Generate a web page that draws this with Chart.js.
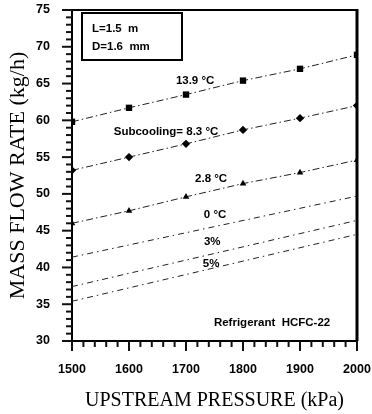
<!DOCTYPE html>
<html>
<head>
<meta charset="utf-8">
<script src="https://cdn.jsdelivr.net/npm/chart.js@4/dist/chart.umd.min.js"></script>
<style>
html,body{margin:0;padding:0;background:#fff;}
#wrap{width:372px;height:414px;}
</style>
</head>
<body>
<div id="wrap"><canvas id="c" width="372" height="414"></canvas></div>
<script>
// ---- data ----
const pressures = [1500, 1600, 1700, 1800, 1900, 2000];
const sub139 = [59.8, 61.7, 63.5, 65.4, 67.0, 68.9];
const sub83  = [53.2, 55.0, 56.8, 58.7, 60.3, 62.0];
const sub28  = [46.0, 47.7, 49.6, 51.4, 52.9, 54.6];
const linePressures = [1500, 2000];
const sub0   = [41.4, 49.7];
const q3     = [37.4, 46.4];
const q5     = [35.4, 44.5];
const xTicks = [1500, 1600, 1700, 1800, 1900, 2000];
const yTicks = [30, 35, 40, 45, 50, 55, 60, 65, 70, 75];
const xMinorStep = 20;
const yMinorStep = 1;
const annotations = [
  {text: '13.9 °C', x: 1716, y: 65.35},
  {text: 'Subcooling= 8.3 °C', x: 1665, y: 58.4},
  {text: '2.8 °C', x: 1744, y: 52.0},
  {text: '0 °C', x: 1751, y: 47.1},
  {text: '3%', x: 1746, y: 43.5},
  {text: '5%', x: 1744, y: 40.5},
  {text: 'Refrigerant  HCFC-22', x: 1851, y: 32.45}
];
const boxLines = ['L=1.5  m', 'D=1.6  mm'];

const toXY = (xs, ys) => xs.map((x, i) => ({x: x, y: ys[i]}));

const markerDash = [7, 3, 1.5, 3];
const plainDash = [6, 4, 1.5, 4];

const datasets = [
  {data: toXY(pressures, sub139), pointStyle: 'rect', pointRadius: 4.5, borderDash: markerDash},
  {data: toXY(pressures, sub83), pointStyle: 'rectRot', pointRadius: 4.2, borderDash: markerDash},
  {data: toXY(pressures, sub28), pointStyle: 'triangle', pointRadius: 3.8, borderDash: markerDash},
  {data: toXY(linePressures, sub0), pointRadius: 0, borderDash: plainDash},
  {data: toXY(linePressures, q3), pointRadius: 0, borderDash: plainDash},
  {data: toXY(linePressures, q5), pointRadius: 0, borderDash: plainDash}
].map(d => Object.assign({
  borderColor: '#222', backgroundColor: '#000', pointBackgroundColor: '#000',
  pointBorderColor: '#000', pointBorderWidth: 0, borderWidth: 1, showLine: true,
  tension: 0, fill: false
}, d));

const extras = {
  id: 'extras',
  afterDraw(chart) {
    const ctx = chart.ctx;
    const xs = chart.scales.x, ys = chart.scales.y;
    const a = chart.chartArea;
    ctx.save();
    ctx.setLineDash([]);
    ctx.strokeStyle = '#000';
    // frame top and right
    ctx.lineWidth = 2;
    ctx.beginPath();
    ctx.moveTo(a.left, a.top);
    ctx.lineTo(a.right, a.top);
    ctx.stroke();
    ctx.lineWidth = 3;
    ctx.beginPath();
    ctx.moveTo(a.right, a.top - 1);
    ctx.lineTo(a.right, a.bottom);
    ctx.stroke();
    // ticks (major longer, minor shorter)
    ctx.strokeStyle = '#111';
    ctx.lineWidth = 2;
    for (let v = ys.min; v <= ys.max; v += yMinorStep) {
      const len = yTicks.indexOf(v) >= 0 ? 10 : 6;
      const py = ys.getPixelForValue(v);
      ctx.beginPath();
      ctx.moveTo(a.left - len, py);
      ctx.lineTo(a.left, py);
      ctx.stroke();
    }
    for (let v = xs.min; v <= xs.max; v += xMinorStep) {
      const len = xTicks.indexOf(v) >= 0 ? 10 : 6;
      const px = xs.getPixelForValue(v);
      ctx.beginPath();
      ctx.moveTo(px, a.bottom);
      ctx.lineTo(px, a.bottom + len);
      ctx.stroke();
    }
    // annotations
    ctx.fillStyle = '#000';
    ctx.font = 'bold 11.5px "Liberation Sans", Arial, sans-serif';
    ctx.textAlign = 'center';
    ctx.textBaseline = 'middle';
    annotations.forEach(t => {
      ctx.fillText(t.text, xs.getPixelForValue(t.x), ys.getPixelForValue(t.y));
    });
    // info box
    ctx.strokeStyle = '#000';
    ctx.lineWidth = 2;
    ctx.strokeRect(a.left + 10, a.top + 3, 100, 47);
    ctx.textAlign = 'left';
    boxLines.forEach((s, i) => ctx.fillText(s, a.left + 20, a.top + 19 + i * 18));
    ctx.restore();
  }
};

new Chart(document.getElementById('c'), {
  type: 'scatter',
  data: {datasets: datasets},
  options: {
    responsive: false,
    animation: false,
    devicePixelRatio: 1,
    layout: {padding: {top: 10, right: 15, left: 0, bottom: 0}},
    plugins: {legend: {display: false}, tooltip: {enabled: false}},
    scales: {
      x: {
        type: 'linear', min: 1500, max: 2000,
        afterBuildTicks: s => { s.ticks = xTicks.map(v => ({value: v})); },
        afterFit: s => { s.height = 73; s.paddingLeft = 0; s.paddingRight = 0; },
        grid: {display: false, drawTicks: true, tickLength: 10},
        border: {display: true, color: '#000', width: 2},
        ticks: {color: '#000', padding: 11, maxRotation: 0, callback: v => String(v),
          font: {family: '"Liberation Sans", Arial, sans-serif', size: 12.5, weight: 'bold'}},
        title: {display: true, text: 'UPSTREAM PRESSURE (kPa)', color: '#000', padding: {top: 0, bottom: 1},
          font: {family: '"Liberation Serif", "Times New Roman", serif', size: 20, weight: 'normal'}}
      },
      y: {
        type: 'linear', min: 30, max: 75,
        afterBuildTicks: s => { s.ticks = yTicks.map(v => ({value: v})); },
        afterFit: s => { s.width = 72; s.paddingTop = 0; s.paddingBottom = 0; },
        grid: {display: false, drawTicks: true, tickLength: 10},
        border: {display: true, color: '#000', width: 2},
        ticks: {color: '#000', padding: 12, callback: v => String(v),
          font: {family: '"Liberation Sans", Arial, sans-serif', size: 12.5, weight: 'bold'}},
        title: {display: true, text: 'MASS FLOW RATE (kg/h)', color: '#000', padding: {top: 5, bottom: 0},
          font: {family: '"Liberation Serif", "Times New Roman", serif', size: 22, weight: 'normal'}}
      }
    }
  },
  plugins: [extras]
});
</script>
</body>
</html>
